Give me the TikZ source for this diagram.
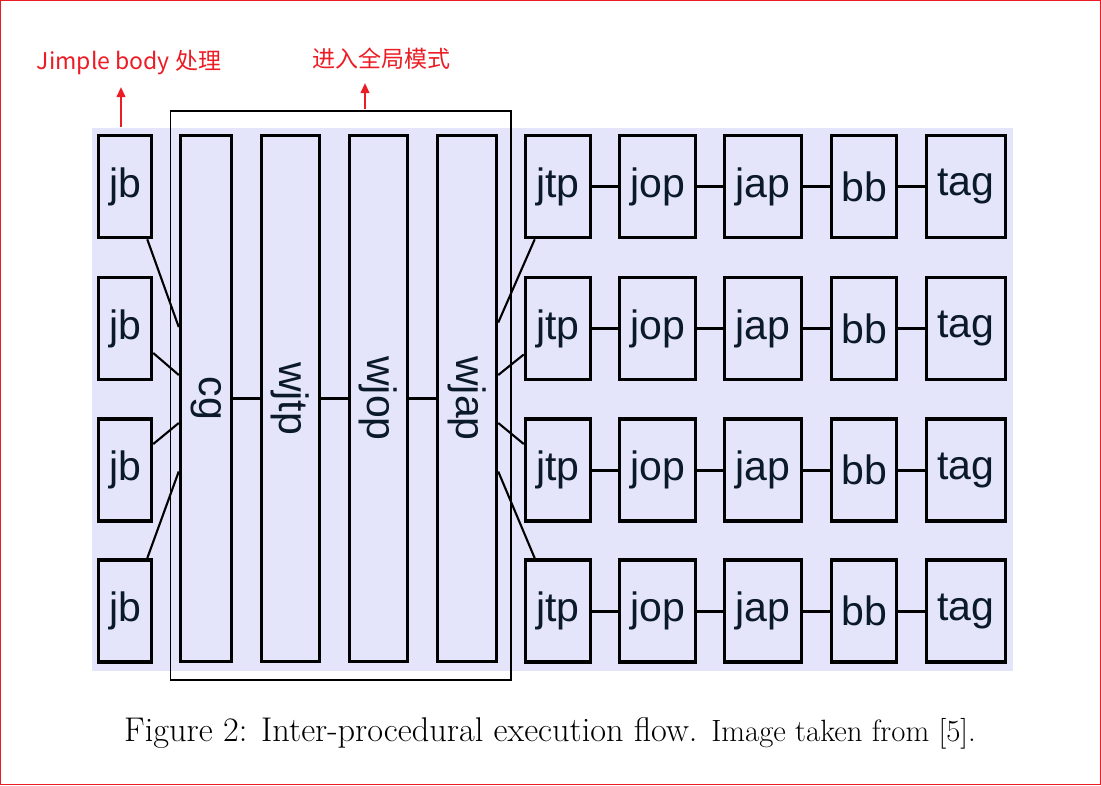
\documentclass[tikz,border=0pt]{standalone}
\usepackage{fontspec}
\newfontfamily\cjkfont{Noto Sans CJK SC}
\newfontfamily\boxfont{Liberation Sans}
\usetikzlibrary{arrows.meta,calc}
\definecolor{bglav}{RGB}{228,228,250}
\definecolor{navytext}{RGB}{10,26,42}
\definecolor{annred}{RGB}{236,28,36}
\tikzset{
  boxbase/.style={draw=black, line width=3.5pt, fill=bglav, inner sep=0pt, text=navytext,
    font=\boxfont\fontsize{41}{43}\selectfont},
  smallbox/.style={boxbase, minimum height=102pt},
  tallbox/.style={boxbase, minimum height=526pt},
  vtext/.style={rotate=-90, inner sep=0pt, text=navytext, font=\boxfont\fontsize{41}{43}\selectfont},
  conn/.style={draw=black, line width=3pt},
  thinconn/.style={draw=black, line width=2.1pt},
  annot/.style={text=annred, inner sep=0pt, font=\cjkfont\fontsize{23}{27}\selectfont},
  annarrow/.style={draw=annred, line width=2.2pt, -{Triangle[length=10pt,width=8.5pt]}},
}
\begin{document}
\begin{tikzpicture}[x=1pt,y=-1pt]
\useasboundingbox (0,0) rectangle (1101,785);
% red border of the image
\draw[annred, line width=1pt] (0.5,0.5) rectangle (1100.5,784.5);
% lavender background
\fill[bglav] (92,128) rectangle (1013,671);
% annotation frame
\draw[black, line width=1.8pt] (170.5,111) rectangle (511,680);

% jb column
\foreach \n/\y in {1/186.5, 2/328.5, 3/470, 4/611}{
  \node[smallbox, minimum width=53pt] (jb\n) at (125,\y) {jb};
}
% tall boxes
\node[tallbox, minimum width=51pt] (cg) at (206,398.5) {};
\node[vtext] (cgt) at (cg) {cg};
\node[tallbox, minimum width=58pt] (wjtp) at (290.5,398.5) {};
\node[vtext] (wjtpt) at (wjtp) {wjtp};
\node[tallbox, minimum width=58pt] (wjop) at (378.5,398.5) {};
\node[vtext] (wjopt) at (wjop) {wjop};
\node[tallbox, minimum width=59pt] (wjap) at (467,398.5) {};
\node[vtext] (wjapt) at (wjap) {wjap};

\draw[thinconn] (cg.east) -- (wjtp.west);
\draw[thinconn] (wjtp.east) -- (wjop.west);
\draw[thinconn] (wjop.east) -- (wjap.west);

% right rows
\foreach \n/\y in {1/186.5, 2/328.5, 3/470, 4/611}{
  \node[smallbox, minimum width=65pt] (jtp\n) at (558,\y) {jtp};
  \node[smallbox, minimum width=76pt] (jop\n) at (657.5,\y) {jop};
  \node[smallbox, minimum width=77pt] (jap\n) at (763,\y) {jap};
  \node[smallbox, minimum width=65pt] (bb\n) at (864,\y) {\raisebox{-3pt}{bb}};
  \node[smallbox, minimum width=79pt] (tag\n) at (966,\y) {tag};
  \draw[conn] (jtp\n.east) -- (jop\n.west);
  \draw[conn] (jop\n.east) -- (jap\n.west);
  \draw[conn] (jap\n.east) -- (bb\n.west);
  \draw[conn] (bb\n.east) -- (tag\n.west);
}

% jb -> cg
\draw[thinconn] ([xshift=-6pt]jb1.south east) -- ([yshift=71.5pt]cg.west);
\draw[thinconn] ([yshift=-24.5pt]jb2.east) -- ([yshift=23.5pt]cg.west);
\draw[thinconn] ([yshift=26pt]jb3.east) -- ([yshift=-24.5pt]cg.west);
\draw[thinconn] ([xshift=-6pt]jb4.north east) -- ([yshift=-73pt]cg.west);
% wjap -> jtp
\draw[thinconn] ([yshift=76pt]wjap.east) -- ([xshift=11pt]jtp1.south west);
\draw[thinconn] ([yshift=23.5pt]wjap.east) -- ([yshift=-26pt]jtp2.west);
\draw[thinconn] ([yshift=-24.5pt]wjap.east) -- ([yshift=26pt]jtp3.west);
\draw[thinconn] ([yshift=-73pt]wjap.east) -- ([xshift=11pt]jtp4.north west);

% annotations
\node[annot] (lblA) at (129,63) {Jimple body 处理};
\node[annot] (lblB) at (381.5,59) {进入全局模式};
\coordinate (arrA) at (121,127);
\coordinate (arrB) at (365,109);
\draw[annarrow] (arrA) -- (121,87);
\draw[annarrow] (arrB) -- (365,83);

% caption
\node[anchor=base west, inner sep=0pt, font=\fontsize{34.3}{40}\selectfont] (cap) at (124,741)
  {Figure 2: Inter-procedural execution flow. {\fontsize{30.8}{36}\selectfont Image taken from [5].}};
\end{tikzpicture}
\end{document}
